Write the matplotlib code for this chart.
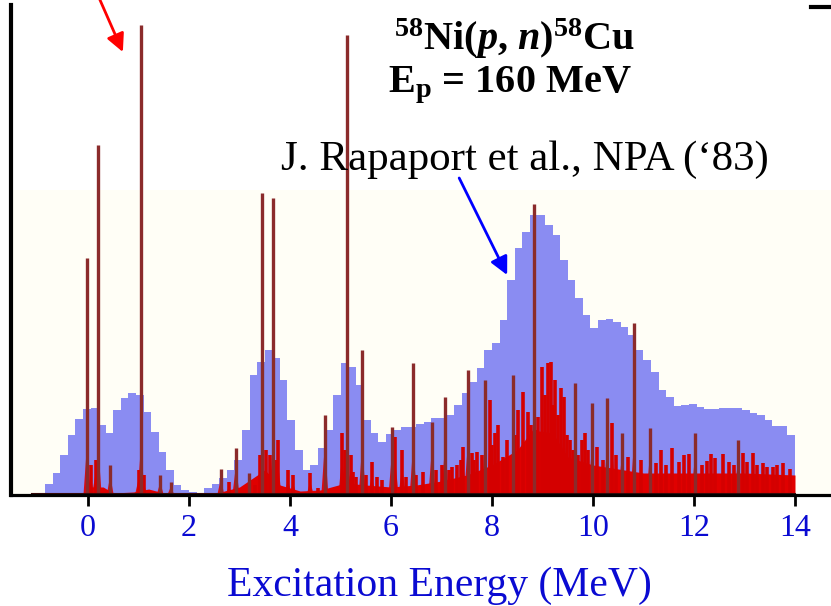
import numpy as np
import matplotlib
matplotlib.use('Agg')
import matplotlib.pyplot as plt
from matplotlib.patches import Polygon, Rectangle

#
#--- Rapaport et al. histogram (blue), 0.15 MeV bins starting at -1.0 MeV
#
blue_start  = -1.0
blue_width  = 0.15
blue_counts = [2, 11, 22, 40, 60, 76, 86, 87, 70, 62,
               85, 97, 102, 100, 83, 63, 43, 25, 10, 5,
               3, 2, 7, 11, 17, 25, 35, 65, 120, 133,
               145, 137, 115, 75, 45, 25, 30, 47, 65, 100,
               132, 128, 110, 75, 62, 53, 61, 65, 68, 68,
               71, 73, 77, 77, 80, 90, 102, 113, 127, 145,
               152, 175, 215, 247, 263, 280, 280, 270, 260, 235,
               215, 197, 180, 167, 175, 176, 173, 168, 160, 145,
               135, 123, 105, 98, 89, 90, 91, 88, 86, 86,
               87, 87, 87, 85, 82, 80, 75, 69, 69, 60]

#
#--- high resolution spectrum (red): continuum level read at these energies
#
floor_energy = [-0.05, 0.0, 0.3, 0.5, 0.9, 1.2, 1.5, 2.0, 2.5, 2.7,
                3.0, 3.5, 3.8, 4.2, 4.6, 5.1, 5.5, 6.0, 6.5, 7.0,
                7.5, 8.0, 8.5, 8.8, 9.2, 9.5, 10.0, 10.5, 11.0, 12.0,
                13.0, 14.0]
floor_level  = [0, 8, 8, 2, 3, 6, 2, 0, 0, 4,
                8, 25, 10, 4, 5, 12, 10, 8, 10, 14,
                20, 30, 45, 65, 62, 38, 30, 26, 22, 22,
                22, 20]

#
#--- sharp states (dark lines)
#
peak_energy = [-0.02, 0.20, 0.44, 1.05, 1.43, 1.64, 2.63, 2.93, 3.19, 3.45,
               3.66, 4.69, 5.13, 5.43, 6.02, 6.44, 6.81, 7.07, 7.52, 7.86,
               8.42, 8.83, 9.64, 9.98, 10.28, 10.57, 10.81, 11.13, 12.02, 12.87]
peak_height = [237, 350, 30, 470, 20, 13, 26, 47, 22, 302,
               297, 80, 460, 145, 68, 132, 73, 98, 125, 115,
               120, 291, 112, 92, 97, 62, 172, 67, 62, 55]

#
#--- smaller structures of the red spectrum
#
spike_energy = [0.05, 0.15, 1.00, 1.10, 2.79, 3.31, 3.40, 3.52, 3.60, 3.72,
                3.76, 3.96, 4.06, 4.40, 4.55, 5.03, 5.08, 5.20, 5.25, 5.30,
                5.50, 5.62, 5.72, 5.82, 6.08, 6.22, 6.30, 6.50, 6.63, 6.90,
                7.00, 7.15, 7.21, 7.31, 7.38, 7.43, 7.60, 7.65, 7.70, 7.80,
                7.96, 8.00, 8.06, 8.12, 8.22, 8.30, 8.45, 8.51, 8.61, 8.71,
                8.78, 8.87, 8.91, 8.99, 9.05, 9.11, 9.17, 9.20, 9.25, 9.30,
                9.37, 9.43, 9.48, 9.54, 9.60, 9.70, 9.78, 9.84, 9.90, 10.08,
                10.20, 10.38, 10.45, 10.70, 10.95, 11.25, 11.35, 11.45, 11.56, 11.70,
                11.80, 11.90, 12.15, 12.25, 12.34, 12.42, 12.57, 12.69, 12.80, 12.97,
                13.05, 13.17, 13.25, 13.37, 13.45, 13.56, 13.65, 13.76, 13.90]
spike_height = [30, 35, 25, 20, 13, 10, 40, 45, 40, 35,
                55, 25, 20, 22, 7, 62, 45, 40, 23, 18,
                20, 33, 18, 15, 58, 45, 18, 20, 23, 25,
                30, 25, 28, 30, 35, 48, 42, 35, 43, 40,
                95, 50, 62, 70, 38, 55, 60, 85, 103, 83,
                70, 65, 78, 128, 100, 132, 133, 90, 115, 80,
                107, 98, 60, 55, 45, 40, 55, 62, 45, 48,
                35, 72, 40, 38, 35, 32, 45, 30, 47, 33,
                40, 41, 30, 34, 41, 37, 41, 33, 30, 42,
                33, 42, 30, 32, 28, 28, 30, 32, 26]

xticks = [0, 2, 4, 6, 8, 10, 12, 14]

blue_col   = '#8a8cf2'
red_col    = '#e00000'
maroon_col = '#8b2b2b'
text_blue  = '#0a0ad2'

#-------------------------------------------------------------------------------
#-- add_base: red skirt at the foot of a peak                                ---
#-------------------------------------------------------------------------------

def add_base(ax, e, h, half=0.07, z=3):
    pts = [(e - half, 0), (e - 0.02, 0.45 * h), (e, 0.6 * h),
           (e + 0.02, 0.45 * h), (e + half, 0)]
    ax.add_patch(Polygon(pts, closed=True, facecolor=red_col, edgecolor='none',
                         alpha=0.92, zorder=z))

#-------------------------------------------------------------------------------
#-- plot_data                                                                ---
#-------------------------------------------------------------------------------

def plot_data():

    plt.rcParams['font.family']      = ['Liberation Serif', 'DejaVu Serif']
    plt.rcParams['mathtext.fontset'] = 'custom'
    plt.rcParams['mathtext.rm']      = 'Liberation Serif:bold'
    plt.rcParams['mathtext.it']      = 'Liberation Serif:italic:bold'
    plt.rcParams['mathtext.bf']      = 'Liberation Serif:bold'

    fig = plt.figure(figsize=(8.31, 6.06), dpi=100)
    ax  = fig.add_axes([11 / 831, 111 / 606, 820 / 831, 490 / 606])

    xmin = -1.525
    xmax = 14.713
    ax.set_xlim(xmin, xmax)
    ax.set_ylim(0, 490)
#
#--- faint cream panel behind the spectra
#
    ax.add_patch(Rectangle((xmin, 0), xmax - xmin, 305, facecolor='#fffef6',
                           edgecolor='none', zorder=0))
#
#--- blue histogram
#
    edges = blue_start + blue_width * np.arange(len(blue_counts) + 1)
    ax.stairs(blue_counts, edges, fill=True, color=blue_col, zorder=1)
#
#--- red continuum and peaks
#
    ax.fill_between(floor_energy, 0, floor_level, color=red_col, lw=0, zorder=2)

    for e, h in zip(spike_energy, spike_height):
        add_base(ax, e, h)
    for e, h in zip(peak_energy, peak_height):
        add_base(ax, e, min(h, 80))

    ax.vlines(spike_energy, 0, spike_height, colors='#d40000', lw=2.6, zorder=3.5)
    ax.vlines(peak_energy, 0, peak_height, colors=maroon_col, lw=2.4, zorder=4)
    ax.plot([-1.1, 14.0], [1.5, 1.5], color='#3a0a0a', lw=1.5, zorder=4)
#
#--- axes
#
    for side in ['top', 'right']:
        ax.spines[side].set_visible(False)
    ax.spines['left'].set_linewidth(3.0)
    ax.spines['bottom'].set_linewidth(2.3)
    ax.spines['bottom'].set_zorder(5)

    ax.set_yticks([])
    ax.set_xticks(xticks)
    ax.set_xticklabels([str(t) for t in xticks])
    ax.tick_params(axis='x', direction='out', length=8, width=2, color='black',
                   labelcolor=text_blue, labelsize=23, pad=6)

    fig.text(439 / 831, 1 - 596 / 606, 'Excitation Energy (MeV)', color=text_blue,
             fontsize=30, ha='center', va='baseline')
#
#--- annotations
#
    fig.text(515 / 831, 1 - 50 / 606, r'$^{58}$Ni($p$, $n$)$^{58}$Cu', fontsize=29,
             fontweight='bold', ha='center', va='baseline')
    fig.text(510 / 831, 1 - 92 / 606, r'E$_\mathrm{p}$ = 160 MeV', fontsize=29,
             fontweight='bold', ha='center', va='baseline')
    fig.text(525 / 831, 1 - 170 / 606, 'J. Rapaport et al., NPA (\u201883)', fontsize=31,
             ha='center', va='baseline')

    ax.annotate('', xy=(0.69, 443), xytext=(0.107, 510), annotation_clip=False,
                arrowprops=dict(arrowstyle='-|>', color='red', lw=2, mutation_scale=27,
                                shrinkA=0, shrinkB=0))
    ax.annotate('', xy=(8.30, 220), xytext=(7.35, 317), annotation_clip=False,
                arrowprops=dict(arrowstyle='-|>', color='blue', lw=2, mutation_scale=27,
                                shrinkA=0, shrinkB=0))

    ax.plot([14.32, 14.713], [488, 488], color='black', lw=3, clip_on=False)

    fig.savefig('out.png', dpi=100)
    plt.close('all')


if __name__ == '__main__':

    plot_data()
